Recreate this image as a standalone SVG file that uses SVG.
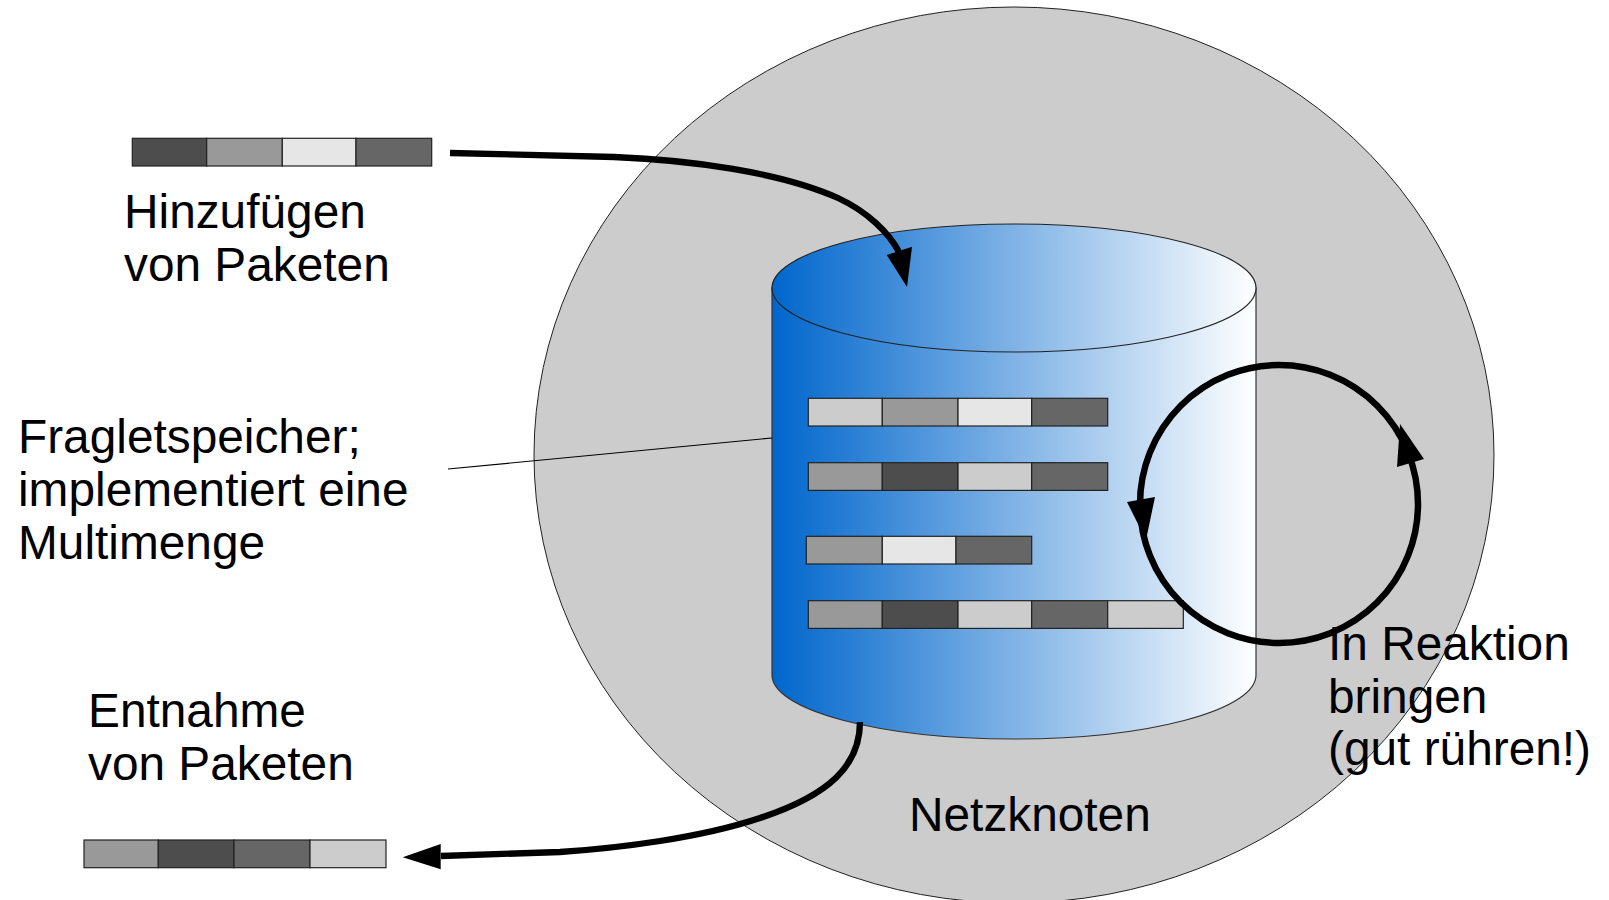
<svg xmlns="http://www.w3.org/2000/svg" width="1609" height="900" viewBox="0 0 1609 900">
<style>
text{font-family:"Liberation Sans",Arial,sans-serif;font-size:47.8px;fill:#000}
.c rect{stroke:#222;stroke-width:1.2}
.k1{fill:#4d4d4d}.k2{fill:#999999}.k3{fill:#e6e6e6}.k4{fill:#666666}.k5{fill:#cccccc}
.arr{fill:none;stroke:#000;stroke-width:6.3}
</style>
<defs>
<linearGradient id="blue" gradientUnits="userSpaceOnUse" x1="772" y1="0" x2="1256" y2="0">
<stop offset="0" stop-color="#0066cc"/>
<stop offset="1" stop-color="#ffffff"/>
</linearGradient>
</defs>
<rect width="1609" height="900" fill="#fff"/>
<g id="netzknoten">
<ellipse cx="1014" cy="455" rx="480" ry="448" fill="#cccccc" stroke="#222" stroke-width="1"/>
<text x="909" y="831">Netzknoten</text>
</g>
<g id="speicher">
<path d="M772,288 V675 A242,64 0 0 0 1256,675 V288 Z" fill="url(#blue)" stroke="#333" stroke-width="1.2"/>
<ellipse cx="1014" cy="288" rx="242" ry="64" fill="url(#blue)" stroke="#222" stroke-width="1.2"/>
</g>
<g id="pakete-speicher" class="c">
<rect class="k5" x="808.3" y="398.3" width="74" height="27.7"/>
<rect class="k2" x="882.3" y="398.3" width="75.7" height="27.7"/>
<rect class="k3" x="958" y="398.3" width="73.7" height="27.7"/>
<rect class="k4" x="1031.7" y="398.3" width="76" height="27.7"/>
<rect class="k2" x="808.3" y="462.7" width="74" height="27.7"/>
<rect class="k1" x="882.3" y="462.7" width="75.7" height="27.7"/>
<rect class="k5" x="958" y="462.7" width="73.7" height="27.7"/>
<rect class="k4" x="1031.7" y="462.7" width="76" height="27.7"/>
<rect class="k2" x="806.3" y="536.3" width="76" height="27.7"/>
<rect class="k3" x="882.3" y="536.3" width="73.7" height="27.7"/>
<rect class="k4" x="956" y="536.3" width="75.7" height="27.7"/>
<rect class="k2" x="808.3" y="600.7" width="74" height="27.7"/>
<rect class="k1" x="882.3" y="600.7" width="75.7" height="27.7"/>
<rect class="k5" x="958" y="600.7" width="73.7" height="27.7"/>
<rect class="k4" x="1031.7" y="600.7" width="76" height="27.7"/>
<rect class="k5" x="1107.7" y="600.7" width="75.6" height="27.7"/>
</g>
<g id="paket-hinzu" class="c">
<rect class="k1" x="132.3" y="138.3" width="74.4" height="27.7"/>
<rect class="k2" x="206.7" y="138.3" width="75.6" height="27.7"/>
<rect class="k3" x="282.3" y="138.3" width="73.7" height="27.7"/>
<rect class="k4" x="356" y="138.3" width="75.7" height="27.7"/>
</g>
<g id="paket-entnahme" class="c">
<rect class="k2" x="84" y="840" width="74.3" height="27.7"/>
<rect class="k1" x="158.3" y="840" width="75.7" height="27.7"/>
<rect class="k4" x="234" y="840" width="76" height="27.7"/>
<rect class="k5" x="310" y="840" width="76" height="27.7"/>
</g>
<g id="connectors">
<line x1="448" y1="469" x2="772" y2="438" stroke="#000" stroke-width="1.2"/>
<path class="arr" d="M450,153 L614,157 C690,160 780,172 838,198 C868,212 889,233 899,252"/>
<polygon points="886.7,255 912,246.7 907,287"/>
<path class="arr" d="M860,722 C860,765 830,795 760,818 C700,838 620,848 560,852 L441,856"/>
<polygon points="402.7,857.3 440.7,844 440.7,869.3"/>
<circle cx="1279" cy="504" r="139" fill="none" stroke="#000" stroke-width="6.5"/>
<polygon points="1127,502 1155,497 1146,540"/>
<polygon points="1397,467 1424,459 1400,424"/>
</g>
<g id="labels">
<text x="124" y="228">Hinzufügen</text>
<text x="124" y="281">von Paketen</text>
<text x="18" y="453">Fragletspeicher;</text>
<text x="18" y="506">implementiert eine</text>
<text x="18" y="559">Multimenge</text>
<text x="88" y="727">Entnahme</text>
<text x="88" y="780">von Paketen</text>
<text x="1328" y="660">In Reaktion</text>
<text x="1328" y="712.5">bringen</text>
<text x="1328" y="765">(gut rühren!)</text>
</g>
</svg>
